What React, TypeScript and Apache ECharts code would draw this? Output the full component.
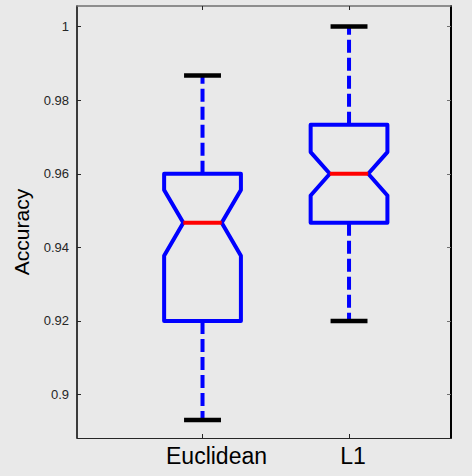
import React, { useEffect, useRef } from "react";
import * as echarts from "echarts";

const categories = ["Euclidean", "L1"];
const positions = [1, 2];
const whiskerLow = [0.8931, 0.92];
const q1 = [0.92, 0.9467];
const notchLow = [0.9377, 0.9541];
const median = [0.9467, 0.96];
const notchHigh = [0.9556, 0.9659];
const q3 = [0.96, 0.9733];
const whiskerHigh = [0.9867, 1.0];
const yTicks = [0.9, 0.92, 0.94, 0.96, 0.98, 1];
const labelShift = [14, 4];

const FONT = "Liberation Sans, Arial, Helvetica, sans-serif";
const BG = "#e9e9e9";

export default function App() {
  const ref = useRef<HTMLDivElement>(null);
  useEffect(() => {
    if (!ref.current) return;
    const chart = echarts.init(ref.current, undefined, { renderer: "svg" });
    const data = positions.map((p, i) => [
      p,
      whiskerLow[i],
      q1[i],
      notchLow[i],
      median[i],
      notchHigh[i],
      q3[i],
      whiskerHigh[i],
    ]);
    const rich: any = {};
    categories.forEach((c, i) => {
      rich["c" + i] = {
        fontSize: 23,
        fontFamily: FONT,
        color: "#000",
        padding: [0, 0, 0, labelShift[i] * 2],
      };
    });
    const option: any = {
      animation: false,
      backgroundColor: BG,
      grid: { left: 77, right: 21, top: 6, bottom: 38, containLabel: false },
      xAxis: [
        {
          type: "value",
          position: "bottom",
          min: 0.1433,
          max: 2.696,
          splitLine: { show: false },
          axisLine: { show: true, onZero: false, lineStyle: { color: "#262626", width: 1 } },
          axisTick: { show: true, inside: true, length: 4, customValues: positions, lineStyle: { color: "#262626" } },
          axisLabel: {
            customValues: positions,
            margin: 6,
            formatter: (v: number) => {
              const i = positions.indexOf(Math.round(v));
              return i >= 0 ? `{c${i}|${categories[i]}}` : "";
            },
            rich,
          },
        },
        {
          type: "value",
          position: "top",
          min: 0.1433,
          max: 2.696,
          splitLine: { show: false },
          axisLine: { show: true, onZero: false, lineStyle: { color: "#707070", width: 1.5 } },
          axisTick: { show: true, inside: true, length: 4, customValues: positions, lineStyle: { color: "#262626" } },
          axisLabel: { show: false },
        },
      ],
      yAxis: [
        {
          type: "value",
          position: "left",
          min: 0.8882,
          max: 1.0056,
          splitLine: { show: false },
          axisLine: { show: true, onZero: false, lineStyle: { color: "#000", width: 1.5 } },
          axisTick: { show: true, inside: true, length: 4, customValues: yTicks, lineStyle: { color: "#262626" } },
          axisLabel: {
            customValues: yTicks,
            margin: 8,
            fontSize: 13,
            fontFamily: FONT,
            color: "#262626",
            formatter: (v: number) => String(parseFloat(v.toFixed(2))),
          },
        },
        {
          type: "value",
          position: "right",
          min: 0.8882,
          max: 1.0056,
          splitLine: { show: false },
          axisLine: { show: true, onZero: false, lineStyle: { color: "#000", width: 2 } },
          axisTick: { show: true, inside: true, length: 4, customValues: yTicks, lineStyle: { color: "#707070" } },
          axisLabel: { show: false },
        },
      ],
      graphic: [
        {
          type: "text",
          x: 21,
          y: 232,
          rotation: Math.PI / 2,
          style: {
            text: "Accuracy",
            fontSize: 21,
            fontFamily: FONT,
            fill: "#000",
            align: "center",
            verticalAlign: "middle",
          },
        },
      ],
      series: [
        {
          type: "custom",
          xAxisIndex: 0,
          yAxisIndex: 0,
          clip: false,
          data,
          encode: { x: 0, y: [1, 2, 3, 4, 5, 6, 7] },
          renderItem: (params: any, api: any) => {
            const x = api.value(0);
            const c = (y: number) => api.coord([x, y]);
            const cx = c(api.value(4))[0];
            const hw = api.size([0.262, 0])[0];
            const nw = hw / 2;
            const cw = api.size([0.126, 0])[0];
            const yWL = c(api.value(1))[1];
            const yQ1 = c(api.value(2))[1];
            const yNL = c(api.value(3))[1];
            const yMed = c(api.value(4))[1];
            const yNH = c(api.value(5))[1];
            const yQ3 = c(api.value(6))[1];
            const yWH = c(api.value(7))[1];
            const blue = "#0000ff";
            const dash = { stroke: blue, lineWidth: 4, lineDash: [13, 5], lineCap: "butt" };
            return {
              type: "group",
              children: [
                { type: "line", shape: { x1: cx, y1: yQ3, x2: cx, y2: yWH }, style: dash },
                { type: "line", shape: { x1: cx, y1: yQ1, x2: cx, y2: yWL }, style: dash },
                {
                  type: "line",
                  shape: { x1: cx - cw, y1: yWH, x2: cx + cw, y2: yWH },
                  style: { stroke: "#000", lineWidth: 4.5 },
                },
                {
                  type: "line",
                  shape: { x1: cx - cw, y1: yWL, x2: cx + cw, y2: yWL },
                  style: { stroke: "#000", lineWidth: 4.5 },
                },
                {
                  type: "polygon",
                  shape: {
                    points: [
                      [cx - hw, yQ3],
                      [cx + hw, yQ3],
                      [cx + hw, yNH],
                      [cx + nw, yMed],
                      [cx + hw, yNL],
                      [cx + hw, yQ1],
                      [cx - hw, yQ1],
                      [cx - hw, yNL],
                      [cx - nw, yMed],
                      [cx - hw, yNH],
                    ],
                  },
                  style: { fill: "none", stroke: blue, lineWidth: 4, lineJoin: "round" },
                },
                {
                  type: "line",
                  shape: { x1: cx - nw, y1: yMed, x2: cx + nw, y2: yMed },
                  style: { stroke: "#ff0000", lineWidth: 4 },
                },
              ],
            };
          },
        },
      ],
    };
    chart.setOption(option);
    return () => chart.dispose();
  }, []);
  return (
    <div
      ref={ref}
      style={{ position: "fixed", left: 0, top: 0, width: 472, height: 476, background: BG }}
    />
  );
}
